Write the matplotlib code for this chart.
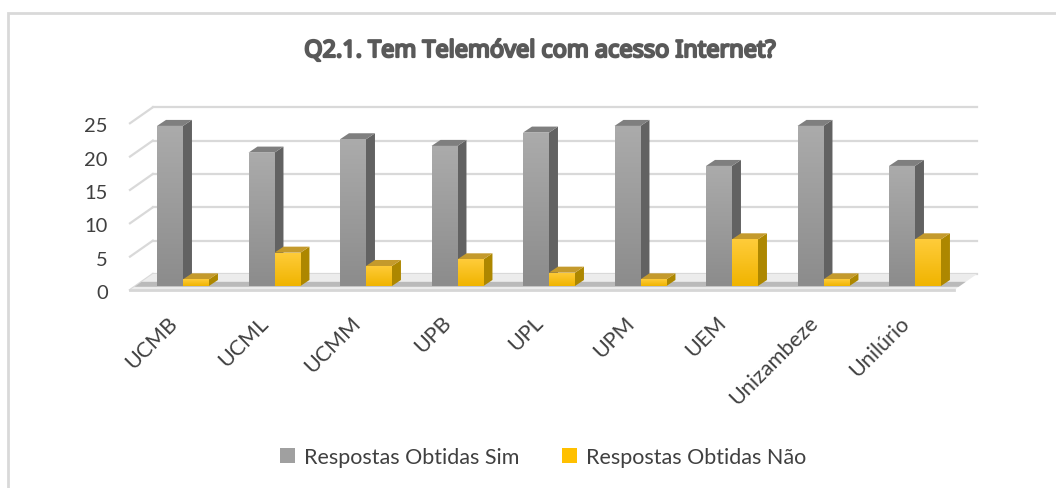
import matplotlib
matplotlib.use('Agg')
import matplotlib.pyplot as plt
import matplotlib.patheffects as pe
from matplotlib.patches import Polygon, Rectangle, Patch
from matplotlib.colors import LinearSegmentedColormap
import numpy as np

# ==================== DATA ====================
categories = ['UCMB', 'UCML', 'UCMM', 'UPB', 'UPL', 'UPM', 'UEM', 'Unizambeze', 'Unilúrio']
sim = [24, 20, 22, 21, 23, 24, 18, 24, 18]
nao = [1, 5, 3, 4, 2, 1, 7, 1, 7]
y_ticks = [0, 5, 10, 15, 20, 25]
series_names = ['Respostas Obtidas Sim', 'Respostas Obtidas Não']
title = 'Q2.1. Tem Telemóvel com acesso Internet?'

# ==================== STYLE ====================
FONT = ['Lato', 'DejaVu Sans']
TXT = '#404040'
GRID = '#d9d9d9'
BAR_W = 0.284
BX, BY = 0.098, 0.9          # depth of a bar (fake 3D)
FX, FY = -0.0625, -0.6       # front edge of floor / side wall
KX, KY = 0.1875, 1.8         # back wall
X_LEFT, X_RIGHT = -0.517, 8.49

faces = {
    'sim': dict(top='#7f7f7f', side='#626262', grad=['#8c8c8c', '#ababab']),
    'nao': dict(top='#c49a2c', side='#ad8700', grad=['#f0b400', '#ffcc3a']),
}

plt.rcParams['font.family'] = FONT

fig = plt.figure(figsize=(10.56, 4.89), dpi=100)
ax = fig.add_axes([100 / 1056, 1 - 300 / 489, 900 / 1056, 210 / 489])
ax.set_xlim((100 - 183) / 91.5, (1000 - 183) / 91.5)
ax.set_ylim((287 - 300) / 6.67, (287 - 90) / 6.67)
ax.axis('off')

# outer frame (left and top edges only visible)
fig.add_artist(Rectangle((8 / 1056, -0.1), 1.2, 1 - 14 / 489 + 0.1,
                         transform=fig.transFigure, fill=False,
                         edgecolor=GRID, linewidth=2))

# ----- walls / gridlines -----
for v in y_ticks:
    ax.plot([X_LEFT + KX, X_RIGHT + KX], [v + KY, v + KY], color=GRID, lw=1.6, zorder=1)
    ax.plot([X_LEFT + FX, X_LEFT + KX], [v + FY, v + KY], color=GRID, lw=1.6, zorder=1)
    ax.text(-0.82, v - 1.0, str(v), ha='right', va='center', fontsize=14.5, color=TXT)

# ----- floor -----
floor = Polygon([(X_LEFT + FX, FY), (X_RIGHT + FX, FY), (X_RIGHT + KX, KY), (X_LEFT + KX, KY)],
                closed=True, facecolor='#ececec', edgecolor='none', zorder=2)
ax.add_patch(floor)
shadow = Polygon([(X_LEFT + FX * 0.2, FY * 0.2), (X_RIGHT + FX * 0.2, FY * 0.2),
                  (X_RIGHT + KX * 0.35, KY * 0.35), (X_LEFT + KX * 0.35, KY * 0.35)],
                 closed=True, facecolor='#8a8a8a', edgecolor='none', alpha=0.5, zorder=2)
ax.add_patch(shadow)
ax.plot([X_LEFT + FX, X_RIGHT + FX], [FY, FY], color='#d6d6d6', lw=2, zorder=2)


def draw_bars(offset, values, style):
    xs = np.arange(len(values)) + offset
    bars = ax.bar(xs, values, width=BAR_W, align='edge', color=style['grad'][1],
                  edgecolor='none', zorder=3)
    cmap = LinearSegmentedColormap.from_list('g', style['grad'])
    grad = np.linspace(0, 1, 64).reshape(-1, 1)
    for b in bars:
        x0, h, w = b.get_x(), b.get_height(), b.get_width()
        im = ax.imshow(grad, cmap=cmap, origin='lower', aspect='auto',
                       extent=(x0, x0 + w, 0, h), zorder=3.1)
        im.set_clip_path(b)
        side = Polygon([(x0 + w, 0), (x0 + w + BX, BY), (x0 + w + BX, h + BY), (x0 + w, h)],
                       closed=True, facecolor=style['side'], edgecolor='none', zorder=3)
        top = Polygon([(x0, h), (x0 + w, h), (x0 + w + BX, h + BY), (x0 + BX, h + BY)],
                      closed=True, facecolor=style['top'], edgecolor='none', zorder=3)
        ax.add_patch(side)
        ax.add_patch(top)


draw_bars(-BAR_W, sim, faces['sim'])
draw_bars(0.0, nao, faces['nao'])

# ----- category labels -----
for i, name in enumerate(categories):
    ax.text(i - 0.02, (287 - 313) / 6.67, name, rotation=45, ha='right', va='top',
            fontsize=15.5, color=TXT)

# ----- title (condensed, thickened with a stroke, fitted to the reference width) -----
t = fig.text(540 / 1056, 1 - 52 / 489, title, ha='center', va='center',
             fontsize=18, fontweight='bold', color='#595959',
             family=['Noto Sans'], fontstretch='extra-condensed')
renderer = fig.canvas.get_renderer()
w = t.get_window_extent(renderer).width
t.set_fontsize(min(22, 18 * 470 / w))
t.set_path_effects([pe.withStroke(linewidth=1.6, foreground='#595959')])

# ----- legend -----
handles = [Patch(facecolor='#a0a0a0', edgecolor='none'),
           Patch(facecolor='#ffc000', edgecolor='none')]
leg = fig.legend(handles, series_names, loc='center', bbox_to_anchor=(543 / 1056, 1 - 458 / 489),
                 ncol=2, frameon=False, fontsize=15.5, handlelength=0.7, handleheight=0.7,
                 handletextpad=0.4, columnspacing=2.0, labelcolor=TXT)

plt.savefig('out.png', dpi=100, facecolor='white')
plt.close()
